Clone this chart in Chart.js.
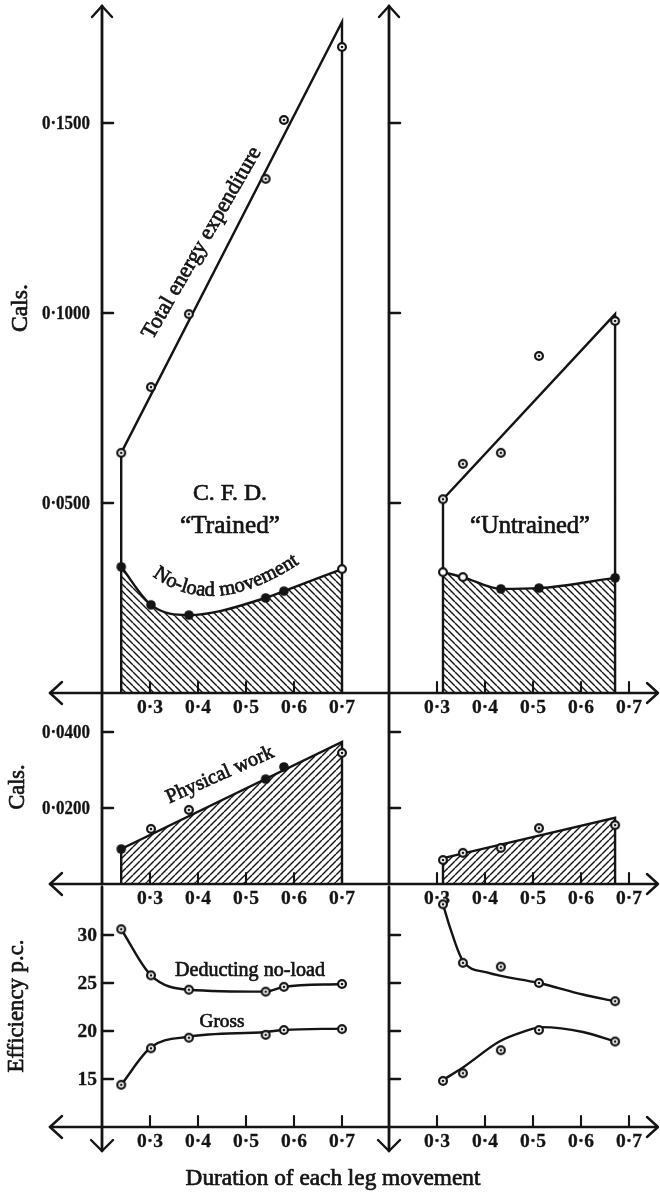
<!DOCTYPE html>
<html><head><meta charset="utf-8">
<script src="https://cdn.jsdelivr.net/npm/chart.js@4.4.1/dist/chart.umd.min.js"></script>
<style>
html,body{margin:0;padding:0;background:#fff;}
#wrap{position:relative;width:660px;height:1193px;overflow:hidden;background:#fff;}
#wrap canvas{position:absolute;left:0;top:0;}
</style></head><body>
<div id="wrap">
<canvas id="L1" width="660" height="1193"></canvas>
<canvas id="R1" width="660" height="1193"></canvas>
<canvas id="L2" width="660" height="1193"></canvas>
<canvas id="R2" width="660" height="1193"></canvas>
<canvas id="L3" width="660" height="1193"></canvas>
<canvas id="R3" width="660" height="1193"></canvas>
</div>
<script>
// ---------------- DATA ----------------
const xTicks = [0.3, 0.4, 0.5, 0.6, 0.7];
const calsTicksTop = [0.05, 0.10, 0.15];
const calsTicksMid = [0.02, 0.04];
const effTicks = [15, 20, 25, 30];

// C. F. D. "Trained"
const trainedX = [0.24, 0.302, 0.381, 0.541, 0.579, 0.70];
const trainedTotal = [0.0632, 0.0805, 0.0997, 0.1353, 0.1508, 0.1700];
const trainedTotalFitX = [0.24, 0.70];
const trainedTotalFit = [0.0632, 0.1766];
const trainedNoLoad = [0.0332, 0.0232, 0.0205, 0.0250, 0.0268, 0.0326];
const trainedWork = [0.0092, 0.0145, 0.0195, 0.0276, 0.0308, 0.0345];
const trainedWorkFitX = [0.24, 0.70];
const trainedWorkFit = [0.0092, 0.0374];
const trainedEffNet = [30.6, 25.8, 24.3, 24.1, 24.6, 24.9];
const trainedEffGross = [14.4, 18.2, 19.3, 19.6, 20.1, 20.2];
const trainedEffGrossFit = [14.4, 18.3, 19.4, 19.9, 20.1, 20.25];

// "Untrained"
const untrainedX = [0.3125, 0.354, 0.433, 0.5125, 0.671];
const untrainedTotal = [0.0510, 0.0603, 0.0632, 0.0887, 0.0979];
const untrainedTotalFitX = [0.3125, 0.671];
const untrainedTotalFit = [0.0510, 0.0997];
const untrainedNoLoad = [0.0318, 0.0305, 0.0274, 0.0276, 0.0303];
const untrainedWork = [0.0063, 0.0082, 0.0095, 0.0147, 0.0155];
const untrainedWorkFitX = [0.3125, 0.671];
const untrainedWorkFit = [0.0068, 0.0174];
const untrainedEffNet = [33.2, 27.1, 26.7, 25.0, 23.1];
const untrainedEffNetFitX = [0.3125, 0.327, 0.354, 0.404, 0.5125, 0.604, 0.671];
const untrainedEffNetFit = [33.2, 30.8, 27.3, 26.1, 25.0, 23.8, 23.1];
const untrainedEffGross = [14.8, 15.6, 18.0, 20.1, 18.9];
const untrainedEffGrossFitX = [0.3125, 0.354, 0.43, 0.479, 0.518, 0.604, 0.671];
const untrainedEffGrossFit = [14.9, 16.2, 18.9, 19.9, 20.4, 19.9, 18.9];

// marker styles (not data)
const trainedNoLoadStyle = ['solid','solid','solid','solid','solid','ring'];
const trainedWorkStyle = ['solid','dot','dot','solid','solid','dot'];
const untrainedNoLoadStyle = ['ring','ring','solid','solid','solid'];

// ---------------- STYLE ----------------
const INK = '#141414';
const SERIF = '"Liberation Serif", "Times New Roman", "DejaVu Serif", serif';

function makeMarker(kind){
  const c = document.createElement('canvas'); c.width = c.height = 14;
  const g = c.getContext('2d'); g.translate(7,7);
  if (kind === 'solid') {
    g.beginPath(); g.arc(0,0,4.8,0,2*Math.PI); g.fillStyle = INK; g.fill();
  } else {
    g.beginPath(); g.arc(0,0,3.9,0,2*Math.PI); g.fillStyle = '#fff'; g.fill();
    g.lineWidth = 2.2; g.strokeStyle = INK; g.stroke();
    if (kind === 'dot') { g.beginPath(); g.arc(0,0,1.3,0,2*Math.PI); g.fillStyle = INK; g.fill(); }
  }
  return c;
}
const MK = {solid: makeMarker('solid'), ring: makeMarker('ring'), dot: makeMarker('dot')};

function hatch(dir){
  const s = 7;
  const c = document.createElement('canvas'); c.width = s; c.height = s;
  const g = c.getContext('2d');
  g.strokeStyle = INK; g.lineWidth = 1.4;
  for (let k = -1; k <= 1; k++) {
    g.beginPath();
    if (dir === 'back') { g.moveTo(k*s, 0); g.lineTo(k*s + s, s); }
    else { g.moveTo(k*s, s); g.lineTo(k*s + s, 0); }
    g.stroke();
  }
  return g.createPattern(c, 'repeat');
}

const pts = (xs, ys) => xs.map((x,i) => ({x, y: ys[i]}));
const outline = (fx, fy) => [{x:fx[0],y:0},{x:fx[0],y:fy[0]},{x:fx[1],y:fy[1]},{x:fx[1],y:0}];

function pointsDS(xs, ys, styles){
  return {data: pts(xs, ys), showLine: false, order: 0,
    pointStyle: styles ? styles.map(s => MK[s]) : MK.dot, pointRadius: 5};
}
function lineDS(data, opts){
  return Object.assign({data, showLine: true, borderColor: INK, borderWidth: 2.4,
    pointRadius: 0, tension: 0, order: 1, fill: false}, opts || {});
}

// ---------------- TEXT HELPERS ----------------
function fitSize(ctx, text, width, family, weight){
  ctx.font = `${weight||'normal'} 40px ${family}`;
  return 40 * width / ctx.measureText(text).width;
}
function inkText(ctx, t, x, y, lw){
  ctx.fillText(t, x, y);
  ctx.lineWidth = lw || 0.7; ctx.strokeStyle = INK; ctx.lineJoin = 'round'; ctx.strokeText(t, x, y);
}
// tick label of given pixel size, squeezed horizontally if wider than maxW
function tickText(ctx, t, x, y, size, maxW, align){
  ctx.save();
  ctx.font = `bold ${size}px ${SERIF}`;
  const w = ctx.measureText(t).width;
  const k = maxW && w > maxW ? maxW / w : 1;
  ctx.translate(x, y); ctx.scale(k, 1);
  ctx.textAlign = align; ctx.textBaseline = 'middle';
  inkText(ctx, t, 0, 0, 0.3);
  ctx.restore();
}
function drawText(ctx, text, cx, cy, width, angle, baseline){
  const size = fitSize(ctx, text, width, SERIF);
  ctx.save();
  ctx.font = `${size}px ${SERIF}`; ctx.fillStyle = INK;
  ctx.textAlign = 'center'; ctx.textBaseline = baseline || 'middle';
  ctx.translate(cx, cy); ctx.rotate((angle||0) * Math.PI/180);
  inkText(ctx, text, 0, 0); ctx.restore();
}
function textOnCurve(ctx, text, P0, C, P2, fillRatio){
  const N = 300, P = [], L = [0];
  for (let i = 0; i <= N; i++){
    const t = i/N, u = 1-t;
    P.push({x: u*u*P0[0] + 2*u*t*C[0] + t*t*P2[0], y: u*u*P0[1] + 2*u*t*C[1] + t*t*P2[1]});
    if (i) L.push(L[i-1] + Math.hypot(P[i].x-P[i-1].x, P[i].y-P[i-1].y));
  }
  const total = L[N];
  const size = fitSize(ctx, text, total*fillRatio, SERIF);
  ctx.save(); ctx.font = `${size}px ${SERIF}`; ctx.fillStyle = INK;
  ctx.textAlign = 'center'; ctx.textBaseline = 'alphabetic';
  const tw = ctx.measureText(text).width;
  let s = (total - tw)/2;
  for (const ch of text){
    const w = ctx.measureText(ch).width;
    const m = s + w/2;
    let i = 1; while (i < N && L[i] < m) i++;
    const a = P[i-1], b = P[i];
    ctx.save(); ctx.translate((a.x+b.x)/2, (a.y+b.y)/2);
    ctx.rotate(Math.atan2(b.y-a.y, b.x-a.x));
    inkText(ctx, ch, 0, 0); ctx.restore();
    s += w;
  }
  ctx.restore();
}
function seg(ctx, x1, y1, x2, y2){ ctx.beginPath(); ctx.moveTo(x1,y1); ctx.lineTo(x2,y2); ctx.stroke(); }
function chevron(ctx, ax, ay, tx, ty, bx, by){ ctx.beginPath(); ctx.moveTo(ax,ay); ctx.lineTo(tx,ty); ctx.lineTo(bx,by); ctx.stroke(); }

// ---------------- LAYOUT ----------------
const calsFmt = v => '0·' + String(Math.round(v*10000)).padStart(4,'0');
const COLS = {L: {padL: 102, padR: 270, min: 0.2, max: 0.8},
              R: {padL: 389, padR: 7, min: 0.2, max: 0.75}};
const ROWS = {1: {padT: 9, padB: 500, min: 0, max: 0.18, ticks: calsTicksTop, fmt: calsFmt, cals: true},
              2: {padT: 694, padB: 309, min: 0, max: 0.05, ticks: calsTicksMid, fmt: calsFmt, cals: true},
              3: {padT: 887, padB: 66, min: 10, max: 35, ticks: effTicks, fmt: v => String(v), cals: false}};

function makeChart(id, col, row, datasets, texts){
  const C = COLS[col], R = ROWS[row];
  const decor = {
    id: 'decor_' + id,
    beforeDatasetsDraw(chart){
      const {ctx, chartArea: a, scales: {x, y}} = chart;
      const ax = x.getPixelForValue(0.2), ay = y.getPixelForValue(R.min);
      ctx.save();
      ctx.strokeStyle = INK; ctx.fillStyle = INK; ctx.lineCap = 'round'; ctx.lineJoin = 'round';
      ctx.lineWidth = 2.8;
      const top = row === 1 ? 6 : a.top, bot = row === 3 ? 1151 : a.bottom;
      seg(ctx, ax, top, ax, bot);
      ctx.lineWidth = 2.4;
      if (row === 1) chevron(ctx, ax-10, 17, ax, 6, ax+10, 17);
      if (row === 3) chevron(ctx, ax-11, 1140, ax, 1151, ax+11, 1140);
      if (col === 'L') {
        ctx.lineWidth = 2.7;
        seg(ctx, 50, ay, 657, ay);
        ctx.lineWidth = 2.4;
        chevron(ctx, 62, ay-11, 50, ay, 62, ay+11);
        chevron(ctx, 647, ay-10, 658, ay, 647, ay+10);
      }
      R.ticks.forEach(v => {
        const py = y.getPixelForValue(v);
        ctx.strokeStyle = INK; ctx.lineWidth = 2.5;
        seg(ctx, ax, py, ax+11, py);
        if (col === 'L') {
          if (R.cals) tickText(ctx, R.fmt(v), ax-12, py+1, 18.5, 48, 'right');
          else tickText(ctx, R.fmt(v), ax-5, py+1, 19.5, 0, 'right');
        }
      });
      xTicks.forEach(v => {
        const px = x.getPixelForValue(v);
        ctx.strokeStyle = INK; ctx.lineWidth = 2.1;
        seg(ctx, px, ay, px, ay-11);
        tickText(ctx, '0·' + Math.round(v*10), px, ay+15, 19.5, 0, 'center');
      });
      ctx.restore();
    },
    afterDraw(chart){ if (texts) texts(chart.ctx); }
  };
  return new Chart(document.getElementById(id), {
    type: 'line',
    data: {datasets},
    options: {
      responsive: false, animation: false, events: [],
      layout: {padding: {left: C.padL, right: C.padR, top: R.padT, bottom: R.padB}},
      scales: {
        x: {type: 'linear', min: C.min, max: C.max, display: false},
        y: {type: 'linear', min: R.min, max: R.max, display: false}
      },
      plugins: {legend: {display: false}, tooltip: {enabled: false}, title: {display: false}},
      clip: false
    },
    plugins: [decor]
  });
}

// ---------------- CHARTS ----------------
makeChart('L1', 'L', 1, [
  pointsDS(trainedX, trainedTotal),
  pointsDS(trainedX, trainedNoLoad, trainedNoLoadStyle),
  lineDS(outline(trainedTotalFitX, trainedTotalFit), {order: 1}),
  lineDS(pts(trainedX, trainedNoLoad), {order: 2, fill: 'origin', backgroundColor: hatch('back'), cubicInterpolationMode: 'monotone'})
], ctx => {
  drawText(ctx, 'Total energy expenditure', 202, 243, 218, -60, 'middle');
  drawText(ctx, 'C. F. D.', 230, 500, 74, 0, 'alphabetic');
  drawText(ctx, '\u201CTrained\u201D', 230, 533, 100, 0, 'alphabetic');
  textOnCurve(ctx, 'No-load movement', [149,573], [211,624], [303,561], 0.95);
});

makeChart('R1', 'R', 1, [
  pointsDS(untrainedX, untrainedTotal),
  pointsDS(untrainedX, untrainedNoLoad, untrainedNoLoadStyle),
  lineDS(outline(untrainedTotalFitX, untrainedTotalFit), {order: 1}),
  lineDS(pts(untrainedX, untrainedNoLoad), {order: 2, fill: 'origin', backgroundColor: hatch('back'), cubicInterpolationMode: 'monotone'})
], ctx => {
  drawText(ctx, '\u201CUntrained\u201D', 530, 533, 120, 0, 'alphabetic');
});

makeChart('L2', 'L', 2, [
  pointsDS(trainedX, trainedWork, trainedWorkStyle),
  lineDS(outline(trainedWorkFitX, trainedWorkFit), {order: 2, fill: 'origin', backgroundColor: hatch('fwd')})
], ctx => {
  drawText(ctx, 'Physical work', 220, 775, 116, -24, 'middle');
});

makeChart('R2', 'R', 2, [
  pointsDS(untrainedX, untrainedWork),
  lineDS(outline(untrainedWorkFitX, untrainedWorkFit), {order: 2, fill: 'origin', backgroundColor: hatch('fwd')})
]);

makeChart('L3', 'L', 3, [
  pointsDS(trainedX, trainedEffNet),
  pointsDS(trainedX, trainedEffGross),
  lineDS(pts(trainedX, trainedEffNet), {cubicInterpolationMode: 'monotone'}),
  lineDS(pts(trainedX, trainedEffGrossFit), {cubicInterpolationMode: 'monotone'})
], ctx => {
  drawText(ctx, 'Deducting no-load', 250, 976, 150, 0, 'alphabetic');
  drawText(ctx, 'Gross', 222, 1027, 45, 0, 'alphabetic');
  drawText(ctx, 'Cals.', 21, 308, 48, -90, 'middle');
  drawText(ctx, 'Cals.', 18, 787, 45, -90, 'middle');
  drawText(ctx, 'Efficiency p.c.', 17, 1006, 133, -90, 'middle');
  drawText(ctx, 'Duration of each leg movement', 333, 1185, 295, 0, 'alphabetic');
});

makeChart('R3', 'R', 3, [
  pointsDS(untrainedX, untrainedEffNet),
  pointsDS(untrainedX, untrainedEffGross),
  lineDS(pts(untrainedEffNetFitX, untrainedEffNetFit), {cubicInterpolationMode: 'monotone'}),
  lineDS(pts(untrainedEffGrossFitX, untrainedEffGrossFit), {cubicInterpolationMode: 'monotone'})
]);
</script>
</body></html>
